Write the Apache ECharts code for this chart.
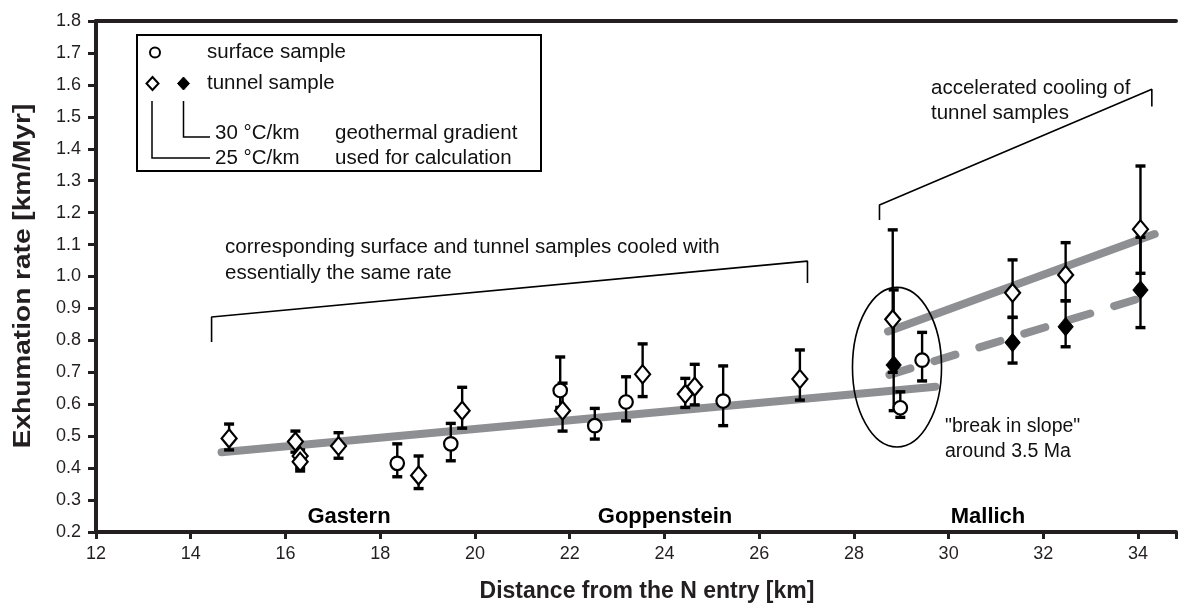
<!DOCTYPE html>
<html><head><meta charset="utf-8">
<script src="https://cdn.jsdelivr.net/npm/echarts@6/dist/echarts.min.js"></script>
<style>html,body{margin:0;padding:0;background:#fff}#c{width:1179px;height:605px}</style>
</head><body><div id="c"></div>
<script>
// ---- data ----
const xTicks = [12,14,16,18,20,22,24,26,28,30,32,34];
const yTicks = [0.2,0.3,0.4,0.5,0.6,0.7,0.8,0.9,1.0,1.1,1.2,1.3,1.4,1.5,1.6,1.7,1.8];
// surface samples (circles): x, rate, low, high
const surfaceX  = [18.36, 19.49, 21.80, 22.53, 23.19, 25.24, 28.98, 29.44];
const surfaceY  = [0.415, 0.476, 0.643, 0.533, 0.607, 0.610, 0.589, 0.738];
const surfaceLo = [0.373, 0.423, 0.590, 0.491, 0.548, 0.533, 0.559, 0.673];
const surfaceHi = [0.476, 0.540, 0.748, 0.587, 0.686, 0.720, 0.639, 0.825];
// tunnel samples, 25 °C/km (open diamonds)
const tunnel25X  = [14.81, 16.21, 16.31, 16.31, 17.12, 18.81, 19.73, 21.85, 23.54, 24.44, 24.64, 26.86, 28.82, 31.35, 32.47, 34.05];
const tunnel25Y  = [0.493, 0.483, 0.438, 0.420, 0.469, 0.377, 0.580, 0.580, 0.694, 0.632, 0.655, 0.679, 0.866, 0.949, 1.005, 1.148];
const tunnel25Lo = [0.457, 0.450, 0.400, 0.391, 0.431, 0.336, 0.525, 0.516, 0.624, 0.590, 0.598, 0.613, 0.700, 0.872, 0.924, 1.010];
const tunnel25Hi = [0.538, 0.516, 0.457, 0.440, 0.511, 0.438, 0.653, 0.666, 0.789, 0.681, 0.725, 0.770, 1.146, 1.052, 1.106, 1.346];
// tunnel samples, 30 °C/km (filled diamonds)
const tunnel30X  = [28.84, 31.35, 32.47, 34.05];
const tunnel30Y  = [0.723, 0.793, 0.843, 0.958];
const tunnel30Lo = [0.580, 0.729, 0.780, 0.840];
const tunnel30Hi = [0.958, 0.872, 0.924, 1.123];
// trend lines
const trendAll = [[14.65, 0.450], [29.72, 0.655]];
const trend25  = [[28.72, 0.828], [34.35, 1.133]];
const trend30  = [[28.75, 0.692], [34.33, 0.945]];
// annotation brackets (data coords)
const bracketSame = [[14.44, 0.795], [14.44, 0.873], [27.02, 1.048], [27.02, 0.980]];
const bracketAccel = [[28.54, 1.177], [28.54, 1.224], [34.29, 1.586], [34.29, 1.532]];
// ellipse: centre x, centre y, radius x (km), radius y (km/Myr)
const breakEllipse = [[28.91, 0.716, 0.94, 0.25]];

const FONT = '"Liberation Sans", Arial, Helvetica, sans-serif';
const INK = '#231f20';
const GREY = '#8e8f92';

function errData(xs, lo, hi){ return xs.map((x,i)=>[x, lo[i], hi[i]]); }
function ptData(xs, ys){ return xs.map((x,i)=>[x, ys[i]]); }

function errRender(params, api){
  const x = api.value(0), lo = api.value(1), hi = api.value(2);
  const a = api.coord([x, hi]), b = api.coord([x, lo]);
  const cw = 10, ch = 3.4;
  return {type:'group', children:[
    {type:'line', shape:{x1:a[0], y1:a[1], x2:b[0], y2:b[1]}, style:{stroke:'#000', lineWidth:2.4}},
    {type:'rect', shape:{x:a[0]-cw/2, y:a[1]-ch/2, width:cw, height:ch}, style:{fill:'#000'}},
    {type:'rect', shape:{x:b[0]-cw/2, y:b[1]-ch/2, width:cw, height:ch}, style:{fill:'#000'}}
  ]};
}

const chart = echarts.init(document.getElementById('c'), null, {renderer:'canvas'});

const axisLineStyle = {color: INK, width: 4};
const option = {
  animation: false,
  backgroundColor: '#fff',
  grid: {left: 96, right: -10, top: 21, bottom: 73, containLabel: false},
  xAxis: [{
    type: 'value', min: 12, max: 34.8, interval: 2,
    axisLine: {show: true, lineStyle: axisLineStyle},
    axisTick: {show: true, length: 7, lineStyle: {color: INK, width: 3}},
    axisLabel: {show: true, margin: 13, color: INK, fontFamily: FONT, fontSize: 18,
      formatter: v => (xTicks.indexOf(Math.round(v*100)/100) >= 0 ? String(v) : '')},
    splitLine: {show: false}
  },{
    type: 'value', position: 'top', min: 12, max: 34.8, interval: 2,
    axisLine: {show: true, lineStyle: axisLineStyle},
    axisTick: {show: false}, axisLabel: {show: false}, splitLine: {show: false}
  }],
  yAxis: {
    type: 'value', min: 0.2, max: 1.8, interval: 0.1,
    axisLine: {show: true, lineStyle: axisLineStyle},
    axisTick: {show: true, length: 8, lineStyle: {color: INK, width: 3}},
    axisLabel: {margin: 15, color: INK, fontFamily: FONT, fontSize: 18, formatter: v => v.toFixed(1)},
    splitLine: {show: false}
  },
  series: [
    {type:'line', data: trendAll, symbol:'none', silent:true, z:1,
     lineStyle:{color:GREY, width:8, cap:'round'}},
    {type:'line', data: trend25, symbol:'none', silent:true, z:1,
     lineStyle:{color:GREY, width:8, cap:'round'}},
    {type:'line', data: trend30, symbol:'none', silent:true, z:1,
     lineStyle:{color:GREY, width:8, cap:'round', type:[22,25]}},
    {type:'line', data: bracketSame, symbol:'none', silent:true, z:2,
     lineStyle:{color:'#000', width:1.6}},
    {type:'line', data: bracketAccel, symbol:'none', silent:true, z:2,
     lineStyle:{color:'#000', width:1.6}},
    {type:'custom', data: breakEllipse, silent:true, z:2, encode:{x:0, y:1},
     renderItem: (p, api) => {
       const c = api.coord([api.value(0), api.value(1)]);
       const s = api.size([api.value(2), api.value(3)]);
       return {type:'ellipse', shape:{cx:c[0], cy:c[1], rx:s[0], ry:s[1]}, style:{fill:null, stroke:'#000', lineWidth:1.6}};
     }},
    {type:'custom', data: errData(surfaceX, surfaceLo, surfaceHi), renderItem: errRender, z:3, encode:{x:0, y:[1,2]}},
    {type:'custom', data: errData(tunnel25X, tunnel25Lo, tunnel25Hi), renderItem: errRender, z:3, encode:{x:0, y:[1,2]}},
    {type:'custom', data: errData(tunnel30X, tunnel30Lo, tunnel30Hi), renderItem: errRender, z:3, encode:{x:0, y:[1,2]}},
    {type:'scatter', data: ptData(surfaceX, surfaceY), symbol:'circle', symbolSize:13.5, z:4,
     itemStyle:{color:'#fff', borderColor:'#000', borderWidth:2.2, opacity:1}},
    {type:'scatter', data: ptData(tunnel25X, tunnel25Y), symbol:'diamond', symbolSize:[15,18], z:4,
     itemStyle:{color:'#fff', borderColor:'#000', borderWidth:2.2, opacity:1}},
    {type:'scatter', data: ptData(tunnel30X, tunnel30Y), symbol:'diamond', symbolSize:[15,18], z:5,
     itemStyle:{color:'#000', borderColor:'#000', borderWidth:1, opacity:1}}
  ],
  graphic: [
    // axis titles
    {type:'text', x:24, y:276, rotation:Math.PI/2, scaleX:1.22, style:{text:'Exhumation rate [km/Myr]', fontFamily:FONT, fontWeight:'bold', fontSize:23, fill:INK, align:'center', verticalAlign:'middle'}},
    {type:'text', x:647, y:592, style:{text:'Distance from the N entry [km]', fontFamily:FONT, fontWeight:'bold', fontSize:23, fill:INK, align:'center', verticalAlign:'middle'}},
    // region labels
    {type:'text', x:349, y:517, style:{text:'Gastern', fontFamily:FONT, fontWeight:'bold', fontSize:22, fill:'#000', align:'center', verticalAlign:'middle'}},
    {type:'text', x:665, y:517, style:{text:'Goppenstein', fontFamily:FONT, fontWeight:'bold', fontSize:22, fill:'#000', align:'center', verticalAlign:'middle'}},
    {type:'text', x:988, y:517, style:{text:'Mallich', fontFamily:FONT, fontWeight:'bold', fontSize:22, fill:'#000', align:'center', verticalAlign:'middle'}},
    // annotations
    {type:'text', x:225, y:247, style:{text:'corresponding surface and tunnel samples cooled with', fontFamily:FONT, fontSize:20.5, fill:'#111', align:'left', verticalAlign:'middle'}},
    {type:'text', x:225, y:273, style:{text:'essentially the same rate', fontFamily:FONT, fontSize:20.5, fill:'#111', align:'left', verticalAlign:'middle'}},
    {type:'text', x:931, y:88, style:{text:'accelerated cooling of', fontFamily:FONT, fontSize:20.5, fill:'#111', align:'left', verticalAlign:'middle'}},
    {type:'text', x:931, y:113, style:{text:'tunnel samples', fontFamily:FONT, fontSize:20.5, fill:'#111', align:'left', verticalAlign:'middle'}},
    {type:'text', x:945, y:427, style:{text:'"break in slope"', fontFamily:FONT, fontSize:19.5, fill:'#111', align:'left', verticalAlign:'middle'}},
    {type:'text', x:945, y:452, style:{text:'around 3.5 Ma', fontFamily:FONT, fontSize:19.5, fill:'#111', align:'left', verticalAlign:'middle'}},
    // legend box
    {type:'group', z:10, children:[
      {type:'rect', shape:{x:137, y:35, width:404, height:136}, style:{fill:'#fff', stroke:'#000', lineWidth:2}},
      {type:'circle', shape:{cx:155, cy:52.5, r:5}, style:{fill:'#fff', stroke:'#000', lineWidth:2}},
      {type:'text', x:207, y:52, style:{text:'surface sample', fontFamily:FONT, fontSize:20.5, fill:'#111', verticalAlign:'middle'}},
      {type:'polygon', shape:{points:[[152.5,77],[158.5,83.5],[152.5,90],[146.5,83.5]]}, style:{fill:'#fff', stroke:'#000', lineWidth:2}},
      {type:'polygon', shape:{points:[[183.5,77],[189.5,83.5],[183.5,90],[177.5,83.5]]}, style:{fill:'#000', stroke:'#000', lineWidth:1}},
      {type:'text', x:207, y:83, style:{text:'tunnel sample', fontFamily:FONT, fontSize:20.5, fill:'#111', verticalAlign:'middle'}},
      {type:'polyline', shape:{points:[[183.5,101],[183.5,137],[210,137]]}, style:{stroke:'#000', lineWidth:1.5, fill:null}},
      {type:'polyline', shape:{points:[[152,101],[152,158],[210,158]]}, style:{stroke:'#000', lineWidth:1.5, fill:null}},
      {type:'text', x:215, y:133, style:{text:'30 °C/km', fontFamily:FONT, fontSize:20.5, fill:'#111', verticalAlign:'middle'}},
      {type:'text', x:215, y:158, style:{text:'25 °C/km', fontFamily:FONT, fontSize:20.5, fill:'#111', verticalAlign:'middle'}},
      {type:'text', x:335, y:133, style:{text:'geothermal gradient', fontFamily:FONT, fontSize:20.5, fill:'#111', verticalAlign:'middle'}},
      {type:'text', x:335, y:158, style:{text:'used for calculation', fontFamily:FONT, fontSize:20.5, fill:'#111', verticalAlign:'middle'}}
    ]}
  ]
};
chart.setOption(option);
</script></body></html>
